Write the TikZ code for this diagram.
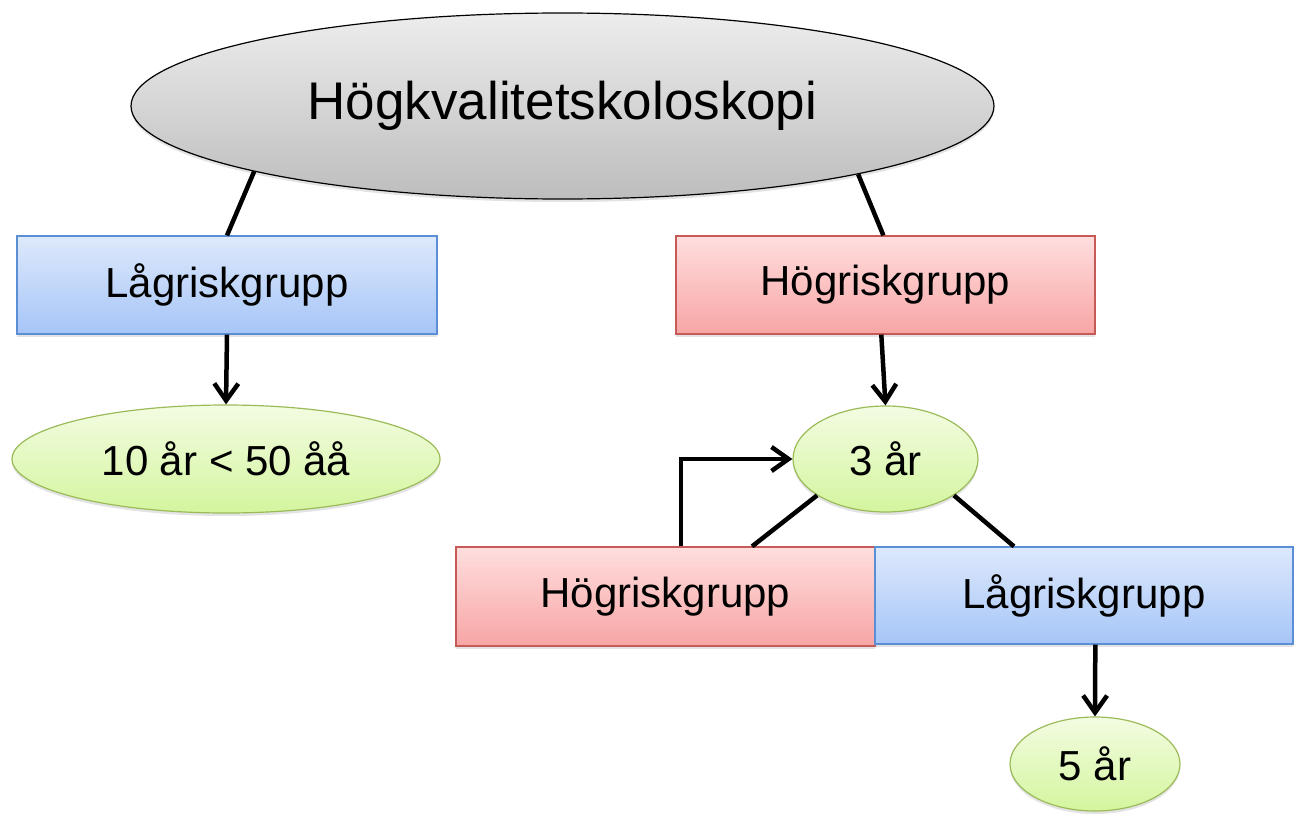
\documentclass[tikz,border=0pt]{standalone}
\usepackage{fontspec}
\setmainfont{Liberation Sans}
\usetikzlibrary{shapes.geometric,arrows.meta,calc,shadows}
\definecolor{grayTop}{HTML}{EDEDED}
\definecolor{grayBot}{HTML}{BDBDBD}
\definecolor{blueTop}{HTML}{DDE9FC}
\definecolor{blueBot}{HTML}{A6C5F7}
\definecolor{blueLine}{HTML}{5A8ED5}
\definecolor{redTop}{HTML}{FFDEDE}
\definecolor{redBot}{HTML}{F8A5A5}
\definecolor{redLine}{HTML}{C55A57}
\definecolor{greenTop}{HTML}{F3FCE2}
\definecolor{greenBot}{HTML}{D4F59E}
\definecolor{greenLine}{HTML}{9BBB59}
\tikzset{
  shad/.style={drop shadow={opacity=0.22,shadow xshift=0pt,shadow yshift=-3pt}},
  rootell/.style={ellipse,draw=black,line width=1.2pt,top color=grayTop,bottom color=grayBot,
    minimum width=863pt,minimum height=186pt,inner sep=0pt,shad,
    font=\fontsize{53}{60}\selectfont},
  lowbox/.style={rectangle,draw=blueLine,line width=1.2pt,top color=blueTop,bottom color=blueBot,
    minimum width=#1,minimum height=98pt,inner sep=0pt,shad,
    font=\fontsize{42}{50}\selectfont},
  highbox/.style={rectangle,draw=redLine,line width=1.2pt,top color=redTop,bottom color=redBot,
    minimum width=#1,minimum height=98pt,inner sep=0pt,shad,
    font=\fontsize{42}{50}\selectfont},
  greenell/.style={ellipse,draw=greenLine,line width=1.2pt,top color=greenTop,bottom color=greenBot,
    inner sep=0pt,shad,font=\fontsize{42}{50}\selectfont},
  link/.style={line width=4.5pt,draw=black},
  arr/.style={line width=4.5pt,draw=black,-{Straight Barb[length=17pt,width=24pt,line width=4.5pt]}}
}
\begin{document}
\begin{tikzpicture}[x=1pt,y=-1pt]
\useasboundingbox (0,0) rectangle (1301,816);
\node[rootell] (root) at (562.5,106) {\raisebox{-4pt}{Högkvalitetskoloskopi}};
\node[lowbox=420pt] (low1) at (227,285) {Lågriskgrupp};
\node[highbox=419pt] (high1) at (885.5,285) {Högriskgrupp};
\node[greenell,minimum width=428pt,minimum height=108pt] (ten) at (226,459) {10 år < 50 åå};
\node[greenell,minimum width=185pt,minimum height=106pt] (three) at (885.5,459) {3 år};
\node[highbox=419pt,minimum height=99pt] (high2) at (665.5,596.5) {Högriskgrupp};
\node[lowbox=418pt,minimum height=97pt] (low2) at (1084,595.5) {Lågriskgrupp};
\node[greenell,minimum width=170pt,minimum height=94pt] (five) at (1095,764) {5 år};
\draw[link] (root.192.5) -- (low1.north);
\draw[link] (root.-13) -- ($(high1.north west)!0.495!(high1.north east)$);
\draw[arr] (low1.south) -- (ten.north);
\draw[arr] ($(high1.south west)!0.49!(high1.south east)$) -- (three.north);
\draw[link] (three.208) -- ($(high2.north west)!0.706!(high2.north east)$);
\draw[link] (three.-28) -- ($(low2.north west)!0.333!(low2.north east)$);
\draw[arr] ($(high2.north west)!0.537!(high2.north east)$) |- (three.west);
\draw[arr] ($(low2.south west)!0.527!(low2.south east)$) -- (five.north);
\end{tikzpicture}
\end{document}
